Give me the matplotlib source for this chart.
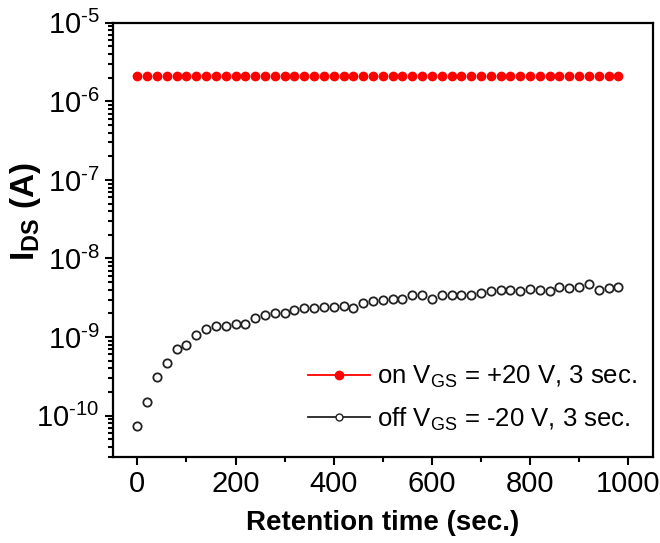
import numpy as np
import matplotlib
matplotlib.use("Agg")
import matplotlib.pyplot as plt
from matplotlib.ticker import FixedLocator, MultipleLocator, NullFormatter, FuncFormatter
from matplotlib.lines import Line2D

plt.rcParams['font.family'] = ['Liberation Sans', 'DejaVu Sans']
plt.rcParams['mathtext.fontset'] = 'custom'
plt.rcParams['mathtext.rm'] = 'Liberation Sans'
plt.rcParams['mathtext.it'] = 'Liberation Sans:italic'
plt.rcParams['mathtext.bf'] = 'Liberation Sans:bold'

# datos: tiempo de retención (s) y corriente I_DS (A)
tiempo = np.arange(0, 1000, 20)

i_on = [2.1e-6] * 50

i_off = [7.4e-11, 1.49e-10, 3.08e-10, 4.65e-10, 7.0e-10, 7.9e-10, 1.07e-9, 1.26e-9,
         1.38e-9, 1.38e-9, 1.45e-9, 1.46e-9, 1.77e-9, 1.89e-9, 2.04e-9, 2.0e-9,
         2.19e-9, 2.34e-9, 2.34e-9, 2.38e-9, 2.44e-9, 2.49e-9, 2.32e-9, 2.69e-9,
         2.88e-9, 2.96e-9, 3.08e-9, 3.08e-9, 3.40e-9, 3.40e-9, 3.03e-9, 3.40e-9,
         3.40e-9, 3.40e-9, 3.47e-9, 3.60e-9, 3.86e-9, 3.98e-9, 3.98e-9, 3.90e-9,
         4.06e-9, 3.98e-9, 3.90e-9, 4.38e-9, 4.20e-9, 4.38e-9, 4.70e-9, 3.98e-9,
         4.20e-9, 4.38e-9]

# décadas visibles en el eje Y
decadas = [1e-10, 1e-9, 1e-8, 1e-7, 1e-6, 1e-5]

label_on = r'on V$_{\mathrm{GS}}$ = +20 V, 3 sec.'
label_off = r'off V$_{\mathrm{GS}}$ = -20 V, 3 sec.'

fig = plt.figure(figsize=(6.6, 5.43), dpi=100)
ax = fig.add_axes([0.171, 0.159, 0.818, 0.799])

ax.plot(tiempo, i_on, color='red', marker='o', markersize=6, linestyle='none',
        markeredgecolor='red', label=label_on)
ax.plot(tiempo, i_off, color='#222222', marker='o', markersize=6, linestyle='none',
        markerfacecolor='white', markeredgewidth=1.3, label=label_off)

ax.set_yscale('log')
ax.set_xlim(-50, 1050)
ax.set_ylim(3e-11, 1e-5)

def fmt_log(v, pos):
    e = int(round(np.log10(v)))
    return r'10$^{\text{-}%d}$' % (-e)

# ticks menores 2..9 dentro de cada década visible
menores = [m * d for d in [1e-11] + decadas[:-1] for m in range(2, 10)]
menores = [m for m in menores if 3e-11 <= m <= 1e-5]

ax.xaxis.set_major_locator(MultipleLocator(200))
ax.xaxis.set_minor_locator(MultipleLocator(100))
ax.yaxis.set_major_locator(FixedLocator(decadas))
ax.yaxis.set_major_formatter(FuncFormatter(fmt_log))
ax.yaxis.set_minor_locator(FixedLocator(menores))
ax.yaxis.set_minor_formatter(NullFormatter())

ax.tick_params(which='both', direction='out', top=False, right=False,
               labelsize=21, width=1.5)
ax.tick_params(which='major', length=6)
ax.tick_params(which='minor', length=3.5)
for s in ax.spines.values():
    s.set_linewidth(1.6)

ax.set_xlabel('Retention time (sec.)', fontsize=20, fontweight='bold', labelpad=9)
ax.text(-0.162, 0.566, r'$\mathbf{I}_{\mathbf{DS}}\ \mathbf{(A)}$', fontsize=24,
        rotation=90, ha='center', va='center', transform=ax.transAxes)

# leyenda con líneas y marcador en medio
h_on = Line2D([], [], color='red', marker='o', markersize=6, linewidth=1.3)
h_off = Line2D([], [], color='#222222', marker='o', markersize=5,
               markerfacecolor='white', linewidth=1.3)
ax.legend([h_on, h_off], [label_on, label_off], loc='lower right',
          bbox_to_anchor=(1.0, 0.02), frameon=False, fontsize=18.5,
          handlelength=2.4, handletextpad=0.3, labelspacing=0.6,
          borderaxespad=0.2)

plt.savefig('out.png', dpi=100)
